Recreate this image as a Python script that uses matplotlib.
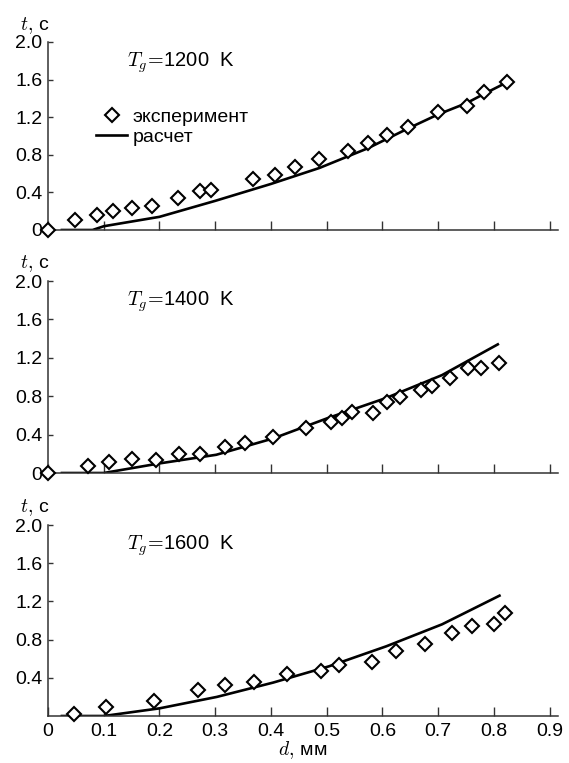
import matplotlib
matplotlib.use("Agg")
import matplotlib.pyplot as plt
from matplotlib.lines import Line2D

plt.rcParams['font.family'] = ['Liberation Sans', 'DejaVu Sans']
plt.rcParams['mathtext.fontset'] = 'cm'

# experiment (d, mm ; t, s)
d_1200 = [0.0, 0.049, 0.088, 0.117, 0.151, 0.186, 0.233, 0.272, 0.293, 0.368, 0.408,
          0.444, 0.487, 0.539, 0.574, 0.608, 0.646, 0.700, 0.751, 0.783, 0.823]
t_1200 = [0.0, 0.11, 0.16, 0.205, 0.23, 0.255, 0.34, 0.41, 0.425, 0.54, 0.58,
          0.67, 0.75, 0.84, 0.93, 1.01, 1.10, 1.25, 1.32, 1.47, 1.57]

d_1400 = [0.0, 0.071, 0.110, 0.151, 0.193, 0.235, 0.272, 0.317, 0.353, 0.403, 0.462,
          0.507, 0.528, 0.546, 0.583, 0.608, 0.632, 0.670, 0.689, 0.721, 0.753, 0.777, 0.809]
t_1400 = [0.0, 0.07, 0.11, 0.15, 0.14, 0.20, 0.20, 0.27, 0.31, 0.37, 0.47,
          0.53, 0.57, 0.64, 0.63, 0.74, 0.79, 0.86, 0.91, 0.99, 1.09, 1.09, 1.15]

d_1600 = [0.046, 0.104, 0.190, 0.270, 0.317, 0.369, 0.429, 0.489, 0.522, 0.582,
          0.624, 0.676, 0.725, 0.760, 0.800, 0.820]
t_1600 = [0.02, 0.09, 0.16, 0.27, 0.32, 0.36, 0.44, 0.47, 0.53, 0.57,
          0.68, 0.75, 0.87, 0.94, 0.96, 1.08]

# calculation
dc_1200 = [0.025, 0.08, 0.1, 0.2, 0.3, 0.4, 0.487, 0.574, 0.646, 0.70, 0.751, 0.783, 0.823]
tc_1200 = [0.0, 0.0, 0.04, 0.14, 0.31, 0.49, 0.66, 0.87, 1.08, 1.23, 1.35, 1.45, 1.57]

dc_1400 = [0.025, 0.1, 0.2, 0.302, 0.404, 0.501, 0.606, 0.707, 0.807]
tc_1400 = [0.0, 0.0, 0.10, 0.19, 0.36, 0.57, 0.78, 1.02, 1.34]

dc_1600 = [0.025, 0.1, 0.2, 0.303, 0.404, 0.504, 0.607, 0.707, 0.81]
tc_1600 = [0.0, 0.0, 0.08, 0.20, 0.35, 0.52, 0.73, 0.96, 1.26]

temps = ['1200', '1400', '1600']
x_ticks = [0, 0.1, 0.2, 0.3, 0.4, 0.5, 0.6, 0.7, 0.8, 0.9]
x_labels = ['0', '0.1', '0.2', '0.3', '0.4', '0.5', '0.6', '0.7', '0.8', '0.9']

W, H = 569, 763
fig = plt.figure(figsize=(W / 100, H / 100), dpi=100)

# panel boxes in pixels: (top, bottom)
boxes = [(42, 230), (281, 473), (525, 716)]
left_px, width_px = 48, 510

panels = [(d_1200, t_1200, dc_1200, tc_1200),
          (d_1400, t_1400, dc_1400, tc_1400),
          (d_1600, t_1600, dc_1600, tc_1600)]

mk = dict(marker='D', ms=7.3, mfc='white', mec='black', mew=1.5)

for i, ((top, bot), (de, te, dc, tc)) in enumerate(zip(boxes, panels)):
    ax = fig.add_axes([left_px / W, 1 - bot / H, width_px / W, (bot - top) / H])
    ax.plot(dc, tc, color='black', lw=1.9, zorder=2)
    ax.plot(de, te, ls='none', zorder=3, clip_on=False, **mk)
    ax.set_xlim(0, 0.915)
    ax.set_ylim(0, 2.0)
    for s in ['top', 'right']:
        ax.spines[s].set_visible(False)
    for s in ['left', 'bottom']:
        ax.spines[s].set_linewidth(1.1)
        ax.spines[s].set_color('#333333')
    ax.set_xticks(x_ticks)
    if i == 2:
        ax.set_xticklabels(x_labels)
        ax.set_yticks([0.4, 0.8, 1.2, 1.6, 2.0])
        ax.set_yticklabels(['0.4', '0.8', '1.2', '1.6', '2.0'])
    else:
        ax.set_xticklabels([])
        ax.set_yticks([0, 0.4, 0.8, 1.2, 1.6, 2.0])
        ax.set_yticklabels(['0', '0.4', '0.8', '1.2', '1.6', '2.0'])
    ax.tick_params(axis='x', direction='in', length=6.5, width=1.0, labelsize=14, pad=5,
                   color='#333333')
    ax.tick_params(axis='y', direction='in', length=3.5, width=1.0, labelsize=14, pad=4,
                   color='#333333')
    ax.text(-0.055, 1.09, r'$t,\,$с', transform=ax.transAxes, fontsize=14,
            ha='left', va='center')
    ax.text(0.155, 0.89, r'$T_g\!=\!$' + temps[i] + '  K', transform=ax.transAxes,
            fontsize=14.5, ha='left', va='center')
    if i == 0:
        handles = [Line2D([], [], ls='none', **mk),
                   Line2D([], [], color='black', lw=1.9)]
        ax.legend(handles, ['эксперимент', 'расчет'], loc='upper left',
                  bbox_to_anchor=(96 / W, 1 - 108 / H), bbox_transform=fig.transFigure,
                  frameon=False, fontsize=14, handlelength=1.6, handletextpad=0.3,
                  labelspacing=0.15, borderpad=0, borderaxespad=0)

fig.text(303 / W, 1 - 750 / H, r'$d,\,$мм', fontsize=14, ha='center', va='center')

fig.savefig('out.png', dpi=100)
